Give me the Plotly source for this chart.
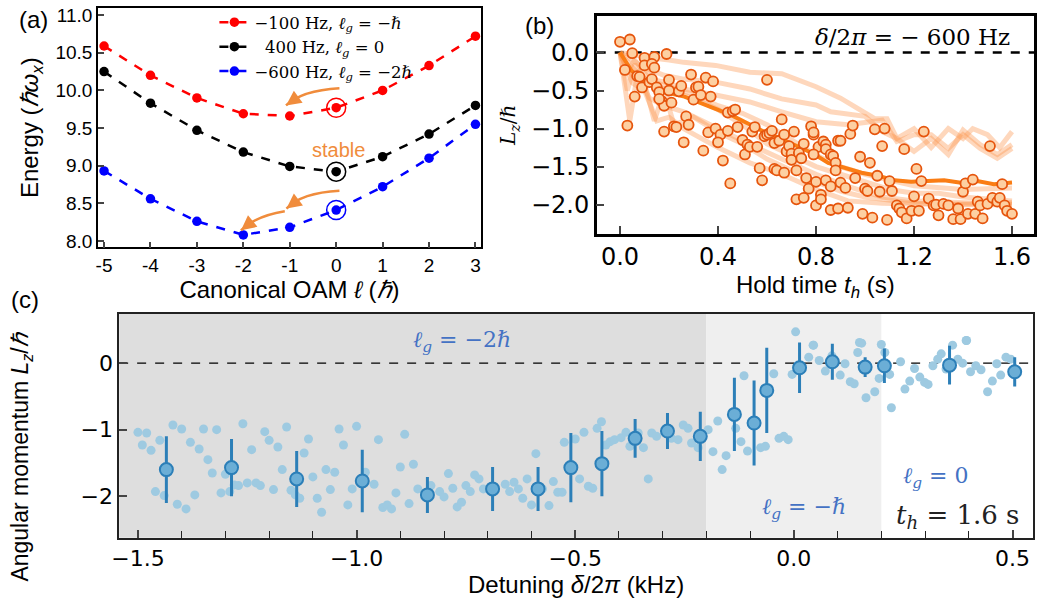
import plotly.graph_objects as go

# ---------------- Panel (a) data ----------------
oam = [-5, -4, -3, -2, -1, 0, 1, 2, 3]
oam_ticktext = ["-5", "-4", "-3", "-2", "-1", "0", "1", "2", "3"]
e_red = [10.59, 10.20, 9.90, 9.69, 9.66, 9.77, 10.00, 10.33, 10.72]
e_black = [10.25, 9.83, 9.47, 9.18, 8.99, 8.92, 9.12, 9.42, 9.80]
e_blue = [8.93, 8.56, 8.26, 8.08, 8.18, 8.41, 8.72, 9.10, 9.55]
legend_names = ["−100 Hz, <i>ℓ</i><sub><i>g</i></sub> = −<i>ℏ</i>",
                "\u2007400 Hz, <i>ℓ</i><sub><i>g</i></sub> = 0",
                "−600 Hz, <i>ℓ</i><sub><i>g</i></sub> = −2<i>ℏ</i>"]

# ---------------- Panel (b) data ----------------
t_exp = [0.00, 0.04, 0.05, 0.02, 0.06, 0.03, 0.10, 0.14, 0.19, 0.10, 0.13, 0.14, 0.07, 0.08,
         0.09, 0.12, 0.13, 0.15, 0.16, 0.17, 0.18, 0.16, 0.20, 0.20, 0.21, 0.24, 0.25, 0.27,
         0.28, 0.29, 0.30, 0.31, 0.32, 0.33, 0.35, 0.37, 0.38, 0.18, 0.22, 0.23, 0.26, 0.34,
         0.36, 0.39, 0.41, 0.42, 0.40, 0.44, 0.44, 0.46, 0.47, 0.45, 0.48, 0.50, 0.51, 0.52,
         0.53, 0.54, 0.55, 0.56, 0.57, 0.58, 0.59, 0.60, 0.61, 0.62, 0.63, 0.63, 0.64, 0.65,
         0.66, 0.67, 0.67, 0.68, 0.69, 0.70, 0.70, 0.71, 0.72, 0.73, 0.74, 0.75, 0.76, 0.77,
         0.78, 0.72, 0.75, 0.79, 0.80, 0.60,
         0.79, 0.94, 0.95, 1.04, 1.08, 1.24, 0.89, 0.90, 1.07, 1.16, 1.51, 0.81, 0.83, 0.84,
         0.84, 0.86, 0.87, 0.79, 0.88, 0.88, 0.98, 1.02, 0.96, 1.21, 0.80, 0.84, 0.86, 0.90,
         0.92, 1.00, 1.01, 1.05, 1.06, 1.10, 1.11, 1.23, 1.40, 1.41, 1.44, 1.56, 0.82, 0.82,
         0.86, 0.89, 0.93, 0.99, 1.03, 1.09, 1.13, 1.14, 1.15, 1.17, 1.19, 1.20, 1.22, 1.26,
         1.28, 1.29, 1.30, 1.32, 1.34, 1.36, 1.38, 1.39, 1.42, 1.45, 1.46, 1.47, 1.48, 1.50,
         1.52, 1.54, 1.55, 1.57, 1.58, 1.60]
lz_exp = [0.14, 0.17, -0.01, -0.23, -0.58, -0.96, -0.07, -0.06, -0.02, -0.17, -0.15, -0.20,
          -0.31, -0.32, -0.46, -0.39, -0.35, -0.46, -0.52, -0.64, -0.70, -0.61, -0.50, -0.36,
          -0.66, -0.51, -0.44, -0.84, -0.95, -0.29, -0.62, -0.46, -0.45, -0.56, -0.33, -0.58,
          -0.38, -1.04, -0.97, -0.98, -1.18, -1.29, -1.05, -1.00, -1.08, -1.42, -1.18, -1.03,
          -0.79, -0.77, -0.75, -1.72, -0.98, -1.15, -1.34, -1.21, -1.24, -1.04, -0.98, -1.24,
          -1.52, -1.68, -1.10, -1.08, -1.06, -1.03, -1.19, -1.53, -1.55, -1.16, -0.88, -1.08,
          -1.58, -1.30, -1.23, -1.33, -1.41, -1.04, -1.55, -1.32, -1.39, -1.20, -1.65, -1.79,
          -0.97, -1.93, -1.91, -1.08, -2.01, -0.36,
          -1.05, -1.07, -0.96, -1.01, -1.00, -1.04, -1.16, -1.16, -1.23, -1.27, -1.23, -1.24,
          -1.17, -1.21, -1.27, -1.34, -1.36, -1.34, -1.45, -1.55, -1.37, -1.45, -1.65, -1.53,
          -1.70, -1.68, -1.76, -1.71, -1.78, -1.79, -1.82, -1.62, -1.83, -1.69, -1.82, -1.69,
          -1.83, -1.72, -1.67, -1.73, -1.87, -1.93, -2.07, -2.05, -2.04, -2.12, -2.17, -2.20,
          -2.01, -2.05, -2.10, -2.18, -2.08, -1.89, -2.08, -1.92, -2.01, -2.00, -2.14, -1.99,
          -2.01, -2.19, -2.05, -2.19, -2.12, -2.12, -1.96, -2.01, -2.18, -1.99, -1.91, -1.96,
          -1.91, -2.01, -2.08, -2.12]

# simulated trajectories
traj1_t = [0, 0.05, 0.10, 0.15, 0.20, 0.26, 0.39, 0.53, 0.66, 0.80, 0.90, 0.99, 1.04, 1.09,
           1.13, 1.20, 1.27, 1.34, 1.40, 1.44, 1.50, 1.55, 1.60]
traj1_lz = [0, -0.03, -0.06, -0.08, -0.10, -0.13, -0.17, -0.26, -0.28, -0.45, -0.60, -0.78,
            -0.87, -0.87, -1.13, -1.00, -1.25, -1.00, -1.13, -1.00, -1.08, -1.25, -1.04]
traj2_t = [0, 0.05, 0.10, 0.18, 0.26, 0.39, 0.53, 0.66, 0.80, 0.86, 1.00, 1.07, 1.13, 1.20,
           1.27, 1.34, 1.40, 1.47, 1.54, 1.60]
traj2_lz = [0, -0.10, -0.20, -0.30, -0.35, -0.39, -0.48, -0.61, -0.69, -0.78, -0.84, -1.04,
            -1.13, -1.30, -1.13, -1.34, -1.02, -1.21, -1.34, -1.21]
traj3_t = [0, 0.03, 0.06, 0.12, 0.20, 0.26, 0.39, 0.53, 0.66, 0.80, 0.93, 1.07, 1.13, 1.20,
           1.27, 1.34, 1.40, 1.47, 1.54, 1.60]
traj3_lz = [0, -0.25, -0.10, -0.35, -0.40, -0.48, -0.56, -0.65, -0.78, -0.91, -0.95, -0.89,
            -1.17, -1.08, -1.08, -1.26, -1.08, -1.26, -1.39, -1.26]
traj4_t = [0, 0.04, 0.07, 0.12, 0.18, 0.26, 0.40, 0.53, 0.66, 0.80, 0.93, 1.07, 1.20, 1.34,
           1.47, 1.60]
traj4_lz = [0, -0.90, -0.30, -0.60, -0.70, -0.78, -1.00, -1.21, -1.40, -1.60, -1.76, -1.90,
            -1.95, -1.97, -1.98, -1.97]
traj5_t = [0, 0.05, 0.10, 0.15, 0.20, 0.26, 0.40, 0.53, 0.66, 0.80, 0.93, 1.07, 1.20, 1.40,
           1.60]
traj5_lz = [0, -0.40, -0.50, -0.90, -0.85, -1.00, -1.25, -1.45, -1.60, -1.80, -1.95, -1.98,
            -1.99, -1.99, -1.99]
traj6_t = [0, 0.05, 0.10, 0.15, 0.20, 0.30, 0.40, 0.50, 0.60, 0.70, 0.80, 0.90, 1.00, 1.10,
           1.20, 1.30, 1.40, 1.50, 1.60]
traj6_lz = [0, -0.30, -0.20, -0.45, -0.50, -0.60, -0.75, -0.95, -1.20, -1.35, -1.50, -1.60,
            -1.70, -1.80, -1.85, -1.85, -1.90, -1.92, -1.95]
traj7_t = [0, 0.03, 0.06, 0.10, 0.14, 0.18, 0.22, 0.30, 0.40, 0.50, 0.60, 0.70, 0.80, 0.90,
           1.00, 1.20, 1.40, 1.60]
traj7_lz = [0, -0.50, -0.15, -0.40, -0.90, -0.50, -0.95, -0.85, -1.05, -1.20, -1.40, -1.55,
            -1.70, -1.82, -1.90, -1.98, -2.00, -2.00]
traj8_t = [0, 0.05, 0.10, 0.20, 0.30, 0.40, 0.50, 0.60, 0.70, 0.80, 0.90, 1.00, 1.20, 1.40,
           1.60]
traj8_lz = [0, -0.20, -0.35, -0.45, -0.55, -0.70, -0.80, -0.95, -1.15, -1.35, -1.50, -1.60,
            -1.75, -1.80, -1.78]
traj_t_list = [traj1_t, traj2_t, traj3_t, traj4_t, traj5_t, traj6_t, traj7_t, traj8_t]
traj_lz_list = [traj1_lz, traj2_lz, traj3_lz, traj4_lz, traj5_lz, traj6_lz, traj7_lz, traj8_lz]

mean_t = [0, 0.047, 0.115, 0.182, 0.263, 0.317, 0.385, 0.452, 0.520, 0.587, 0.655, 0.722,
          0.790, 0.850, 0.918, 0.985, 1.053, 1.120, 1.188, 1.255, 1.323, 1.391, 1.458, 1.526,
          1.600]
mean_lz = [0, -0.24, -0.41, -0.52, -0.58, -0.65, -0.74, -0.82, -0.93, -1.04, -1.13, -1.23,
           -1.33, -1.45, -1.52, -1.58, -1.62, -1.68, -1.70, -1.69, -1.68, -1.71, -1.69, -1.73,
           -1.71]

# ---------------- Panel (c) data ----------------
det_pts = [-1.50, -1.48, -1.49, -1.47, -1.45, -1.42, -1.40, -1.46, -1.44, -1.41, -1.39, -1.38,
           -1.36, -1.37, -1.35, -1.34, -1.33, -1.32, -1.31, -1.30, -1.29, -1.28, -1.27, -1.26,
           -1.25, -1.24, -1.23, -1.22, -1.21, -1.20, -1.19, -1.18, -1.17, -1.16, -1.15, -1.14,
           -1.13, -1.12, -1.11, -1.10, -1.09, -1.08, -1.07, -1.06, -1.05, -1.04, -1.03, -1.02,
           -1.01, -1.00, -0.98, -0.96, -0.95, -0.94, -0.93, -0.92, -0.91, -0.90, -0.89, -0.88,
           -0.87, -0.86,
           -0.83, -0.81, -0.80, -0.79, -0.78, -0.77, -0.76, -0.75, -0.74, -0.73, -0.72, -0.71,
           -0.66, -0.65, -0.64, -0.63, -0.62, -0.61, -0.60, -0.59, -0.575, -0.56, -0.55, -0.54,
           -0.53, -0.525, -0.50, -0.49, -0.48, -0.47, -0.46, -0.45, -0.44, -0.43, -0.42, -0.41,
           -0.395, -0.384, -0.375, -0.356, -0.344, -0.333, -0.325, -0.314, -0.28, -0.265,
           -0.253, -0.242, -0.234, -0.219, -0.196, -0.185, -0.174, -0.164, -0.155,
           -0.114, -0.133, -0.121, -0.106, -0.076, -0.065, -0.034, -0.023, -0.013, -0.046,
           -0.004, 0.034, 0.045, 0.058, 0.072, 0.087, 0.106, 0.117, 0.129, 0.138, 0.146, 0.155,
           0.165, 0.185, 0.195, 0.208, 0.219, 0.223, 0.244, 0.254, 0.265, 0.276, 0.288, 0.299,
           0.307, 0.318, 0.329, 0.337, 0.348, 0.363, 0.375, 0.386, 0.394, 0.404, 0.416, 0.428,
           0.443, 0.454, 0.464, 0.473, 0.485, 0.496, 0.004, 0.044, 0.150, 0.200, 0.395]
lz_pts = [-1.04, -1.05, -1.23, -1.31, -1.16, -0.93, -0.99, -1.93, -1.99, -2.12, -2.19, -1.19,
          -1.29, -1.98, -0.99, -1.45, -1.65, -1.00, -1.95, -1.67, -1.93, -1.83, -1.84, -0.91,
          -1.80, -1.30, -1.80, -1.84, -1.03, -1.16, -1.90, -1.26, -1.60, -0.96, -1.91, -1.98,
          -2.03, -1.35, -1.14, -1.71, -2.03, -2.24, -1.60, -1.90, -1.64, -0.99, -1.23, -2.13,
          -1.89, -0.95, -1.64, -1.82, -1.15, -2.17, -2.13, -2.19, -1.95, -1.56, -1.07, -2.11,
          -1.52, -1.89,
          -1.84, -1.93, -2.01, -1.66, -1.88, -2.16, -2.09, -1.84, -1.93, -1.68, -1.74, -1.89,
          -1.82, -1.93, -1.79, -1.89, -2.03, -1.74, -2.13, -1.36, -1.89, -2.14, -1.78, -1.94,
          -1.94, -1.19, -1.14, -1.74, -1.04, -1.85, -1.88, -0.98, -0.88, -1.23, -1.18, -1.15,
          -1.12, -1.04, -1.25, -1.05, -1.27, -1.74, -1.05, -1.10, -1.13, -1.15,
          -0.93, -0.98, -1.20, -1.27, -1.00, -1.33, -0.87, -1.60, -1.39,
          -0.19, -0.98, -1.18, -1.32, -1.27, -1.25, -1.13, -1.10, -1.15, -0.16,
          -0.17, 0.09, 0.27, 0.04, -0.12, 0.11, -0.18, -0.01, -0.28, -0.31, 0.16, 0.30,
          -0.52, -0.43, -0.23, 0.16, -0.17, -0.67, 0.02, -0.39, -0.27, -0.08, -0.21, -0.29,
          -0.32, -0.04, 0.06, 0.14, -0.09, 0.27, 0.06, 0.00, 0.34, -0.13, -0.04, -0.10,
          -0.43, -0.27, -0.01, -0.18, 0.09, 0.06, 0.47, 0.27, 0.31, 0.28, 0.34]

det_avg = [-1.435, -1.286, -1.137, -0.987, -0.838, -0.689, -0.585, -0.510, -0.439, -0.363,
           -0.289, -0.214, -0.136, -0.091, -0.062, 0.013, 0.088, 0.163, 0.207, 0.356, 0.505]
lz_avg = [-1.60, -1.57, -1.74, -1.77, -1.98, -1.89, -1.89, -1.57, -1.51, -1.13, -1.02, -1.10,
          -0.77, -0.90, -0.41, -0.07, 0.02, -0.06, -0.04, -0.03, -0.13]
lz_err = [0.50, 0.43, 0.42, 0.47, 0.27, 0.33, 0.33, 0.52, 0.49, 0.29, 0.27, 0.37, 0.55, 0.64,
          0.64, 0.38, 0.27, 0.15, 0.26, 0.29, 0.22]

region_edges = [-0.2, 0.2]

W, H = 1041, 608
ORANGE_ARROW = "rgb(240,140,60)"
SANS = "Liberation Sans"
SERIF = "DejaVu Serif"

fig = go.Figure()

# ---- panel (a) traces ----
for yv, col, name in [(e_red, "red", legend_names[0]),
                      (e_black, "black", legend_names[1]),
                      (e_blue, "blue", legend_names[2])]:
    fig.add_trace(go.Scatter(x=oam, y=yv, mode="lines+markers", name=name,
                             line=dict(color=col, width=2.5, dash="dash"),
                             marker=dict(color=col, size=9.5),
                             xaxis="x", yaxis="y"))
for yv, col in [(e_red, "red"), (e_black, "black"), (e_blue, "blue")]:
    i0 = oam.index(0)
    fig.add_trace(go.Scatter(x=[oam[i0]], y=[yv[i0]], mode="markers", showlegend=False,
                             marker=dict(symbol="circle-open", size=19, color=col,
                                         line=dict(width=1.5, color=col)),
                             xaxis="x", yaxis="y"))

# ---- panel (b) traces ----
for tt, ll in zip(traj_t_list, traj_lz_list):
    fig.add_trace(go.Scatter(x=tt, y=ll, mode="lines", showlegend=False,
                             line=dict(color="rgba(253,150,80,0.38)", width=5),
                             xaxis="x2", yaxis="y2"))
fig.add_trace(go.Scatter(x=mean_t, y=mean_lz, mode="lines", showlegend=False,
                         line=dict(color="rgb(250,125,20)", width=4),
                         xaxis="x2", yaxis="y2"))
fig.add_trace(go.Scatter(x=t_exp, y=lz_exp, mode="markers", showlegend=False,
                         marker=dict(color="#fdd0a2", size=10,
                                     line=dict(color="#e6550d", width=1.8)),
                         xaxis="x2", yaxis="y2"))

# ---- panel (c) traces ----
fig.add_trace(go.Scatter(x=det_pts, y=lz_pts, mode="markers", showlegend=False,
                         marker=dict(color="#9ecae1", size=9),
                         xaxis="x3", yaxis="y3"))
fig.add_trace(go.Scatter(x=det_avg, y=lz_avg, mode="markers", showlegend=False,
                         error_y=dict(type="data", array=lz_err, color="#2c7fb8",
                                      thickness=3, width=0),
                         marker=dict(color="#6baed6", size=13,
                                     line=dict(color="#2c7fb8", width=2)),
                         xaxis="x3", yaxis="y3"))

def dom(a, b, total):
    return [a / total, b / total]

ax_common = dict(showline=True, mirror=True, linecolor="black", ticks="inside",
                 showgrid=False, zeroline=False)

fig.update_layout(
    width=W, height=H, margin=dict(l=0, r=0, t=0, b=0),
    paper_bgcolor="white", plot_bgcolor="white",
    showlegend=True,
    legend=dict(x=208 / W, y=1 - 2 / H, xanchor="left", yanchor="top",
                bgcolor="rgba(0,0,0,0)", font=dict(family=SERIF, size=16.5, color="black"),
                itemwidth=30, tracegroupgap=0),
    xaxis=dict(domain=dom(90.7, 476.7, W), range=[-5.13, 3.12], anchor="y",
               tickvals=oam, ticktext=oam_ticktext, linewidth=1.5, ticklen=6, tickwidth=1.5,
               tickfont=dict(family=SANS, size=19, color="black"),
               title=dict(text="Canonical OAM <i>ℓ</i> (<i>ℏ</i>)", standoff=6,
                          font=dict(family=SANS, size=24, color="black")),
               **ax_common),
    yaxis=dict(domain=[1 - 247.3 / H, 1 - 5 / H], range=[7.913, 11.096], anchor="x",
               tickvals=[8.0, 8.5, 9.0, 9.5, 10.0, 10.5, 11.0], tickformat=".1f",
               linewidth=1.5, ticklen=6, tickwidth=1.5,
               tickfont=dict(family=SANS, size=19, color="black"),
               title=dict(text="Energy (<i>ℏω</i><sub><i>x</i></sub>)", standoff=10,
                          font=dict(family=SANS, size=24, color="black")),
               **ax_common),
    xaxis2=dict(domain=dom(593.3, 1034, W), range=[-0.095, 1.69], anchor="y2",
                tickvals=[0.0, 0.4, 0.8, 1.2, 1.6], tickformat=".1f",
                linewidth=2.5, ticklen=8, tickwidth=2,
                tickfont=dict(family="DejaVu Sans", size=24, color="black"),
                title=dict(text="Hold time <i>t</i><sub><i>h</i></sub> (s)", standoff=6,
                           font=dict(family=SANS, size=24, color="black")),
                **ax_common),
    yaxis2=dict(domain=[1 - 233.3 / H, 1 - 13.3 / H], range=[-2.38, 0.477], anchor="x2",
                tickvals=[0.0, -0.5, -1.0, -1.5, -2.0], tickformat=".1f",
                linewidth=2.5, ticklen=8, tickwidth=2,
                tickfont=dict(family="DejaVu Sans", size=24, color="black"),
                title=dict(text="<i>L</i><sub><i>z</i></sub>/<i>ℏ</i>", standoff=10,
                           font=dict(family=SERIF, size=20, color="black")),
                **ax_common),
    xaxis3=dict(domain=dom(112, 1033, W), range=[-1.543, 0.547], anchor="y3",
                tickvals=[-1.5, -1.0, -0.5, 0.0, 0.5], tickformat=".1f",
                linewidth=1.5, linecolor="#222", ticklen=8, tickwidth=1.5,
                minor=dict(dtick=0.1, ticks="inside", ticklen=7, tickwidth=1.2,
                           tickcolor="#222"),
                tickfont=dict(family="DejaVu Sans", size=22, color="black"),
                title=dict(text="Detuning <i>δ</i>/2<i>π</i> (kHz)", standoff=6,
                           font=dict(family=SANS, size=24, color="black")),
                showgrid=False, zeroline=False, showline=True, mirror=True, ticks="inside"),
    yaxis3=dict(domain=[1 - 541 / H, 1 - 314.3 / H], range=[-2.624, 0.743], anchor="x3",
                tickvals=[0, -1, -2], linewidth=1.5, linecolor="#222", ticklen=8,
                tickwidth=1.5,
                tickfont=dict(family="DejaVu Sans", size=22, color="black"),
                showgrid=False, zeroline=False, showline=True, mirror=True, ticks="inside"),
)

# ---- shapes ----
shapes = []
# panel (c) regions
shapes.append(dict(type="rect", xref="x3", yref="y3 domain", x0=-1.543, x1=region_edges[0],
                   y0=0, y1=1, fillcolor="#dedede", line=dict(width=0), layer="below"))
shapes.append(dict(type="rect", xref="x3", yref="y3 domain", x0=region_edges[0],
                   x1=region_edges[1], y0=0, y1=1, fillcolor="#efefef", line=dict(width=0),
                   layer="below"))
shapes.append(dict(type="line", xref="x3 domain", yref="y3", x0=0, x1=1, y0=0, y1=0,
                   line=dict(color="black", width=1.3, dash="dash"), layer="below"))
# panel (b) zero line
shapes.append(dict(type="line", xref="x2 domain", yref="y2", x0=0, x1=1, y0=0, y1=0,
                   line=dict(color="black", width=2.5, dash="dash"), layer="below"))
# panel (a) curved arrows: start, control, end
arrows = [((0.07, 10.03), (-0.75, 10.0), (-1.08, 9.80)),
          ((0.07, 8.667), (-0.75, 8.64), (-1.07, 8.43)),
          ((-1.107, 8.395), (-1.75, 8.33), (-2.05, 8.14))]
for (x0, y0), (cx, cy), (x1, y1) in arrows:
    shapes.append(dict(type="path", xref="x", yref="y",
                       path=f"M {x0},{y0} Q {cx},{cy} {x1},{y1}",
                       line=dict(color=ORANGE_ARROW, width=2.5)))
fig.update_layout(shapes=shapes)

# ---- annotations ----
ann = []
for (x0, y0), (cx, cy), (x1, y1) in arrows:
    s = 0.72
    bx = (1 - s) ** 2 * x0 + 2 * (1 - s) * s * cx + s ** 2 * x1
    by = (1 - s) ** 2 * y0 + 2 * (1 - s) * s * cy + s ** 2 * y1
    ann.append(dict(x=x1, y=y1, xref="x", yref="y", ax=bx, ay=by, axref="x", ayref="y",
                    text="", showarrow=True, arrowhead=2, arrowsize=1.2, arrowwidth=2.5,
                    arrowcolor=ORANGE_ARROW))
ann.append(dict(x=0.05, y=9.21, xref="x", yref="y", text="stable", showarrow=False,
                font=dict(family=SANS, size=20, color=ORANGE_ARROW)))
for txt, xp, yp in [("(a)", 26, 17), ("(b)", 536, 23), ("(c)", 17, 300)]:
    ann.append(dict(x=xp / W, y=1 - yp / H, xref="paper", yref="paper", text=txt,
                    xanchor="center", yanchor="middle", showarrow=False,
                    font=dict(family=SANS, size=24, color="black")))
ann.append(dict(x=14 / W, y=1 - 459 / H, xref="paper", yref="paper", textangle=-90,
                xanchor="center", yanchor="middle",
                text="Angular momentum <i>L</i><sub><i>z</i></sub>/<i>ℏ</i>", showarrow=False,
                font=dict(family=SANS, size=23, color="black")))
ann.append(dict(x=1012 / W, y=1 - 34 / H, xref="paper", yref="paper", xanchor="right",
                yanchor="middle", text="<i>δ</i>/2<i>π</i> = − 600 Hz", showarrow=False,
                font=dict(family=SERIF, size=23, color="black")))
BLUE_TXT = "rgb(68,114,196)"
ann.append(dict(x=-0.758, y=0.33, xref="x3", yref="y3",
                text="<i>ℓ</i><sub><i>g</i></sub> = −2<i>ℏ</i>", showarrow=False,
                font=dict(family=SERIF, size=22, color=BLUE_TXT)))
ann.append(dict(x=0.023, y=-2.19, xref="x3", yref="y3",
                text="<i>ℓ</i><sub><i>g</i></sub> = −<i>ℏ</i>", showarrow=False,
                font=dict(family=SERIF, size=22, color=BLUE_TXT)))
ann.append(dict(x=0.324, y=-1.72, xref="x3", yref="y3",
                text="<i>ℓ</i><sub><i>g</i></sub> = 0", showarrow=False,
                font=dict(family=SERIF, size=22, color=BLUE_TXT)))
ann.append(dict(x=0.374, y=-2.31, xref="x3", yref="y3",
                text="<i>t</i><sub><i>h</i></sub> = 1.6 s", showarrow=False,
                font=dict(family=SERIF, size=26, color="#222")))
fig.update_layout(annotations=ann)

fig.write_html("out.html")
